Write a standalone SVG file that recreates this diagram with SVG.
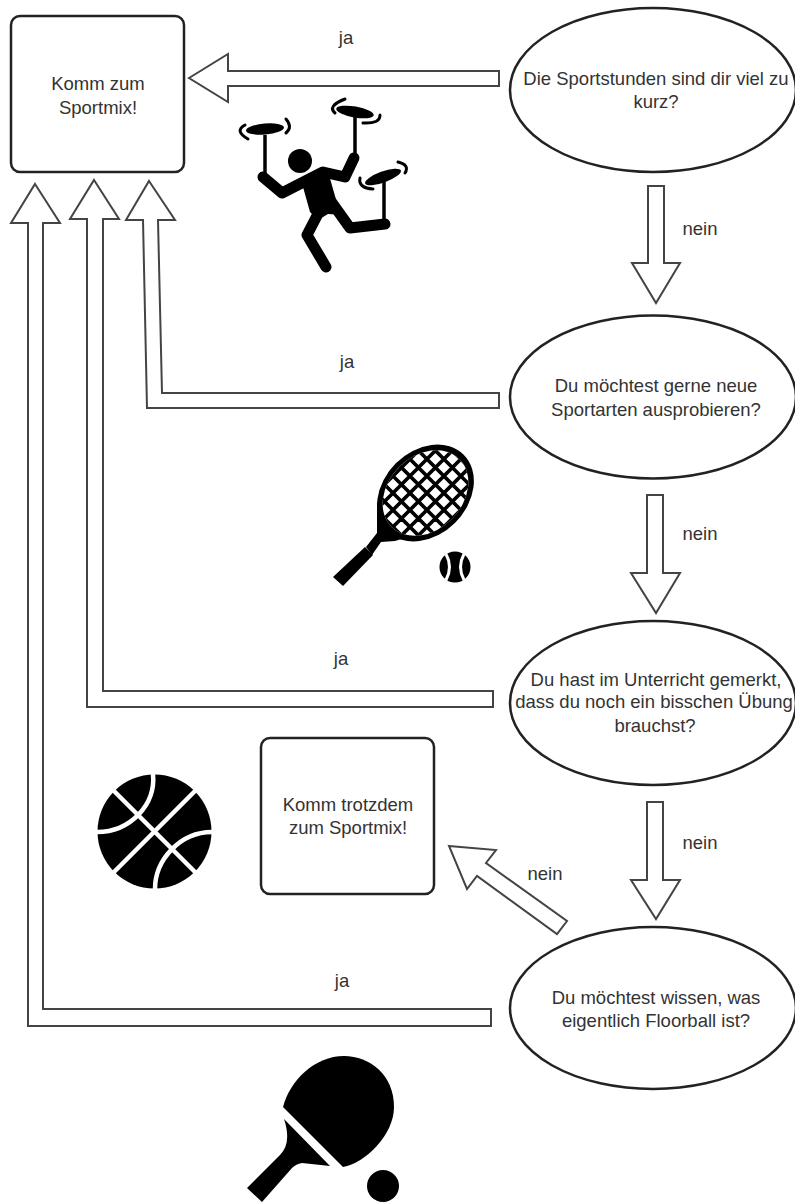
<svg xmlns="http://www.w3.org/2000/svg" width="795" height="1202" viewBox="0 0 795 1202">
<style>
text{font-family:"Liberation Sans",Arial,sans-serif;font-size:18.5px;fill:#333;text-anchor:middle}
.n{fill:#fff;stroke:#222;stroke-width:2.5}
.a{fill:#fff;stroke:#444;stroke-width:2;stroke-linejoin:miter}
.k{fill:#000}
.w{fill:none;stroke:#fff;stroke-width:4.5}
.s{fill:none;stroke:#000;stroke-linecap:round;stroke-linejoin:round}
</style>
<defs><clipPath id="rc"><ellipse cx="0" cy="0" rx="48" ry="37"/></clipPath></defs>
<rect width="795" height="1202" fill="#fff"/>
<g id="connectors">
<polygon class="a" points="189,78 228,54 228,71 499,71 499,86 228,86 228,102"/>
<polygon class="a" points="648,186 664,186 664,263 680,263 656,303 632,263 648,263"/>
<polygon class="a" points="647,495 663,495 663,573 680,573 656,613 631,573 647,573"/>
<polygon class="a" points="647,802 663,802 663,880 680,880 656,919 631,880 647,880"/>
<polygon class="a" points="149,181 175,220 158,220 162,393 499,393 499,408 147,408 143,220 126,220"/>
<polygon class="a" points="94,180 119,219 103,219 103,691 493,691 493,707 87,707 87,219 70,219"/>
<polygon class="a" points="35,184 60,223 43,223 43,1009 491,1009 491,1026 28,1026 28,223 11,223"/>
<polygon class="a" points="449,846 496,850 486,863 567,921 557,934 477,876 467,889"/>
</g>
<g id="box-sportmix"><rect class="n" x="11" y="16" width="173" height="156" rx="9"/><text x="98" y="90">Komm zum</text><text x="98" y="114">Sportmix!</text></g>
<g id="box-trotzdem"><rect class="n" x="261" y="738" width="173" height="156" rx="9"/><text x="348" y="811">Komm trotzdem</text><text x="348" y="834">zum Sportmix!</text></g>
<g id="q1"><ellipse class="n" cx="653" cy="90" rx="143" ry="82"/><text x="656" y="85">Die Sportstunden sind dir viel zu</text><text x="656" y="108">kurz?</text></g>
<g id="q2"><ellipse class="n" cx="653" cy="397" rx="143" ry="81.5"/><text x="656" y="392">Du möchtest gerne neue</text><text x="656" y="416">Sportarten ausprobieren?</text></g>
<g id="q3"><ellipse class="n" cx="653" cy="703" rx="143" ry="82"/><text x="656" y="686">Du hast im Unterricht gemerkt,</text><text x="654" y="708">dass du noch ein bisschen Übung</text><text x="655" y="732">brauchst?</text></g>
<g id="q4"><ellipse class="n" cx="653" cy="1008" rx="143" ry="81"/><text x="656" y="1004">Du möchtest wissen, was</text><text x="656" y="1027">eigentlich Floorball ist?</text></g>
<g id="labels">
<text x="346" y="44">ja</text><text x="347" y="368">ja</text><text x="341" y="665">ja</text><text x="342" y="987">ja</text>
<text x="700" y="235">nein</text><text x="700" y="540">nein</text><text x="700" y="849">nein</text><text x="545" y="880">nein</text>
</g>
<g id="icon-juggler">
<circle class="k" cx="300" cy="161" r="12"/>
<polyline class="s" stroke-width="11" points="263,177 282,193 323,172 345,177 354,158"/>
<polygon class="k" points="303,187 327,168 337,203 345,215 328,214 318,220 310,212"/>
<polyline class="s" stroke-width="11" points="330,200 350,228 385,224"/>
<polyline class="s" stroke-width="11" points="321,208 307,235 326,267"/>
<g stroke="#000" stroke-width="3.500"><line x1="265" y1="135" x2="265" y2="176"/><line x1="355" y1="115" x2="355" y2="158"/><line x1="384" y1="182" x2="384" y2="222"/></g>
<ellipse class="k" cx="265" cy="129" rx="19" ry="5.500" transform="rotate(-5 265 129)"/>
<ellipse class="k" cx="355" cy="112" rx="19" ry="5.500" transform="rotate(10 355 112)"/>
<ellipse class="k" cx="383" cy="177" rx="19" ry="5.500" transform="rotate(-20 383 177)"/>
<g class="s" stroke-width="3"><path d="M245 125Q234 131 248 139"/><path d="M286 119Q293 127 286 133"/><path d="M345 99Q327 106 335 113"/><path d="M363 123Q380 124 380 115"/><path d="M398 162Q410 165 405 173"/><path d="M360 178Q358 188 373 189"/></g>
</g>
<g id="icon-racket">
<ellipse class="k" cx="425.500" cy="493" rx="54" ry="42" transform="rotate(-45 425.500 493)"/>
<polygon class="k" points="377,502 377,533 366,547 372,555 381,542 395,541 415,535"/>
<polygon class="k" points="365,547 333,577 343,586 373,555"/>
<g transform="translate(425.500 493) rotate(-45)"><ellipse cx="0" cy="0" rx="48" ry="37" fill="#fff"/>
<g clip-path="url(#rc)"><path stroke="#000" stroke-width="3.6" fill="none" d="M-60-59H60M-60-47H60M-60-35H60M-60-23H60M-60-11H60M-60 1H60M-60 13H60M-60 25H60M-60 37H60M-60 49H60M-59-60V60M-47-60V60M-35-60V60M-23-60V60M-11-60V60M1-60V60M13-60V60M25-60V60M37-60V60M49-60V60"/></g></g>
<circle class="k" cx="455" cy="567" r="15.500"/>
<path d="M446 554Q453 567 446 580M464 554Q457 567 464 580" fill="none" stroke="#fff" stroke-width="3"/>
</g>
<g id="icon-basketball">
<circle class="k" cx="154.500" cy="831.500" r="57"/>
<path class="w" d="M110 787L199 876M199 787L110 876M153 774C156 805 130 832 97 832M212 832C180 832 155 860 155 889"/>
</g>
<g id="icon-paddle">
<path class="k" d="M283 1107L343 1167C365 1163 394 1135 394 1107C394 1075 370 1056 344 1056C315 1056 290 1080 283 1107Z"/>
<path class="k" d="M284 1119L330 1166L302 1163Q296 1164 292 1168L262 1202L247 1188L280 1155Q292 1143 284 1119Z"/>
<circle class="k" cx="383" cy="1186" r="16"/>
</g>
</svg>
